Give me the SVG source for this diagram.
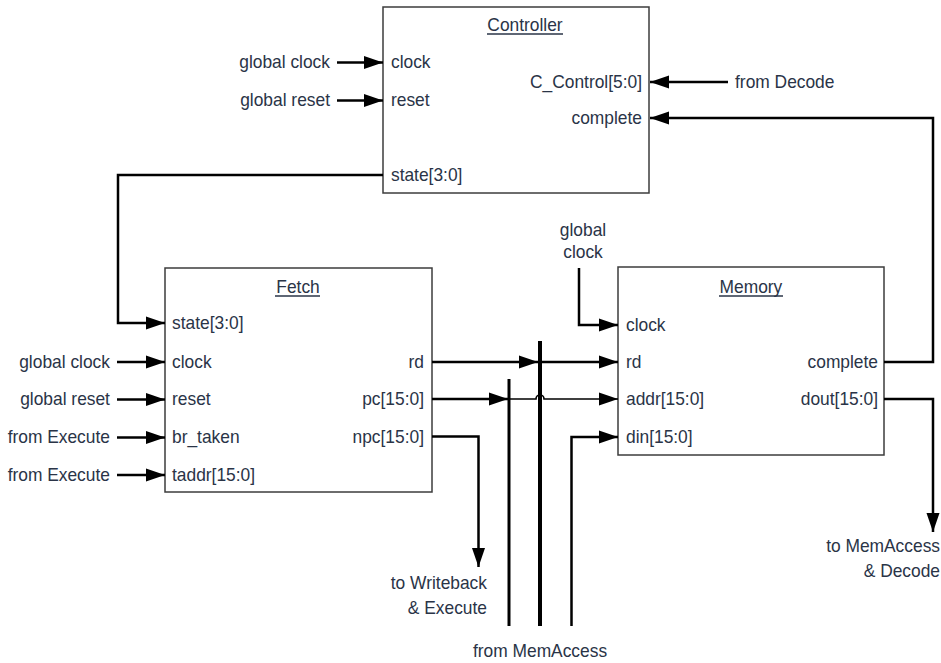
<svg xmlns="http://www.w3.org/2000/svg" width="941" height="663" viewBox="0 0 941 663">
  <style>
    .box { fill: #ffffff; stroke: #3c3c3c; stroke-width: 1.5; }
    .wire { fill: none; stroke: #000000; stroke-width: 2.5; }
    .thin { fill: none; stroke: #000000; stroke-width: 1.6; }
    .ul { stroke: #2a3447; stroke-width: 1.3; }
    text { font-family: "Liberation Sans", Arial, sans-serif; font-size: 19.2px; fill: #2a3447; }
    .e { text-anchor: end; }
    .m { text-anchor: middle; }
  </style>
  <defs>
    <marker id="arrow" markerUnits="userSpaceOnUse" markerWidth="20" markerHeight="14" refX="19" refY="7" orient="auto">
      <path d="M0,0.5 L19,7 L0,13.5 Z" fill="#000000"/>
    </marker>
  </defs>

  <rect width="941" height="663" fill="#ffffff"/>

  <!-- Controller block -->
  <g id="controller">
    <rect class="box" x="383" y="7" width="266" height="186"/>
    <line class="ul" x1="487" y1="34" x2="563" y2="34"/>
    <g transform="scale(0.905 1)">
      <text class="m" x="580.1" y="31">Controller</text>
      <text x="432.0" y="68">clock</text>
      <text x="432.0" y="106">reset</text>
      <text x="432.0" y="181">state[3:0]</text>
      <text class="e" x="709.4" y="88">C_Control[5:0]</text>
      <text class="e" x="709.4" y="124">complete</text>
    </g>
  </g>

  <!-- Fetch block -->
  <g id="fetch">
    <rect class="box" x="165" y="268" width="267" height="224"/>
    <line class="ul" x1="275" y1="296" x2="320" y2="296"/>
    <g transform="scale(0.905 1)">
      <text class="m" x="329.3" y="293">Fetch</text>
      <text x="190.1" y="329">state[3:0]</text>
      <text x="190.1" y="368">clock</text>
      <text x="190.1" y="405">reset</text>
      <text x="190.1" y="443">br_taken</text>
      <text x="190.1" y="481">taddr[15:0]</text>
      <text class="e" x="468.5" y="368">rd</text>
      <text class="e" x="468.5" y="405">pc[15:0]</text>
      <text class="e" x="468.5" y="443">npc[15:0]</text>
    </g>
  </g>

  <!-- Memory block -->
  <g id="memory">
    <rect class="box" x="618" y="267" width="266" height="188"/>
    <line class="ul" x1="719" y1="296" x2="783" y2="296"/>
    <g transform="scale(0.905 1)">
      <text class="m" x="829.8" y="293">Memory</text>
      <text x="691.7" y="331">clock</text>
      <text x="691.7" y="368">rd</text>
      <text x="691.7" y="405">addr[15:0]</text>
      <text x="691.7" y="443">din[15:0]</text>
      <text class="e" x="970.2" y="368">complete</text>
      <text class="e" x="970.2" y="405">dout[15:0]</text>
    </g>
  </g>

  <!-- External signal labels -->
  <g id="labels" transform="scale(0.905 1)">
    <text class="e" x="364.6" y="68">global clock</text>
    <text class="e" x="364.6" y="106">global reset</text>
    <text x="812.2" y="88">from Decode</text>
    <text class="e" x="121.5" y="368">global clock</text>
    <text class="e" x="121.5" y="405">global reset</text>
    <text class="e" x="121.5" y="443">from Execute</text>
    <text class="e" x="121.5" y="481">from Execute</text>
    <text class="m" x="644.2" y="236">global</text>
    <text class="m" x="644.2" y="258">clock</text>
    <text class="e" x="1038.7" y="552">to MemAccess</text>
    <text class="e" x="1038.7" y="577">&amp; Decode</text>
    <text class="e" x="538.1" y="589">to Writeback</text>
    <text class="e" x="538.1" y="614">&amp; Execute</text>
    <text class="m" x="596.7" y="657">from MemAccess</text>
  </g>

  <!-- Connectors -->
  <g id="connectors">
    <!-- Controller inputs -->
    <path class="wire" d="M337 62.5 H383" marker-end="url(#arrow)"/>
    <path class="wire" d="M337 100.5 H383" marker-end="url(#arrow)"/>
    <path class="wire" d="M728 82 H650" marker-end="url(#arrow)"/>
    <!-- Memory complete back to Controller -->
    <path class="wire" d="M884 362 H933 V118 H650" marker-end="url(#arrow)"/>
    <!-- Controller state to Fetch -->
    <path class="wire" d="M383 175 H118 V323 H165" marker-end="url(#arrow)"/>
    <!-- Fetch inputs -->
    <path class="wire" d="M117 362 H165" marker-end="url(#arrow)"/>
    <path class="wire" d="M117 399.5 H165" marker-end="url(#arrow)"/>
    <path class="wire" d="M117 437.5 H165" marker-end="url(#arrow)"/>
    <path class="wire" d="M117 475 H165" marker-end="url(#arrow)"/>
    <!-- MemAccess buses -->
    <line x1="540" y1="341" x2="540" y2="626" stroke="#000" stroke-width="4"/>
    <line x1="509" y1="379" x2="509" y2="626" stroke="#000" stroke-width="3"/>
    <path class="wire" d="M571.5 626 V437 H618" marker-end="url(#arrow)"/>
    <!-- Fetch rd -->
    <path class="wire" d="M432 362 H538" marker-end="url(#arrow)"/>
    <path class="wire" d="M540 362 H618" marker-end="url(#arrow)"/>
    <!-- Fetch pc -->
    <path class="wire" d="M432 399 H508" marker-end="url(#arrow)"/>
    <path class="thin" d="M509 399 H536 A4 4 0 0 1 544 399 H618" marker-end="url(#arrow)"/>
    <!-- Fetch npc -->
    <path class="wire" d="M432 436.5 H478.5 V567" marker-end="url(#arrow)"/>
    <!-- Memory clock -->
    <path class="wire" d="M579 268 V325 H618" marker-end="url(#arrow)"/>
    <!-- Memory dout -->
    <path class="wire" d="M884 399 H933 V532" marker-end="url(#arrow)"/>
  </g>
</svg>
